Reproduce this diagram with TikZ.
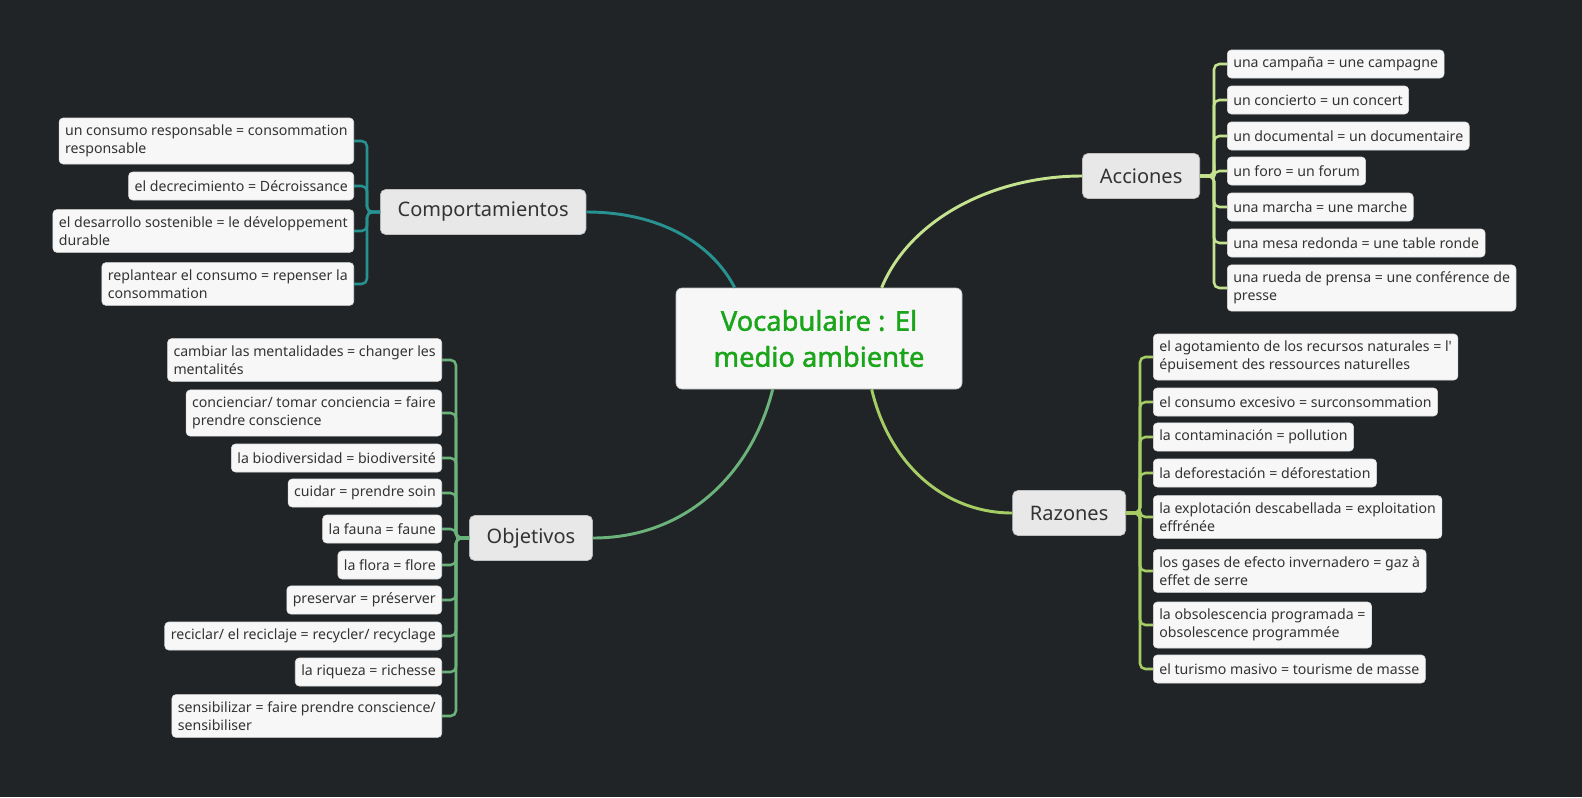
\documentclass[tikz,border=0pt]{standalone}
\usepackage{fontspec}
\setmainfont{Noto Sans}
\newfontfamily\titlefont[FakeBold=1.6]{Noto Sans}
\usetikzlibrary{calc}
\definecolor{bg}{HTML}{202427}
\definecolor{leaffill}{HTML}{F7F7F7}
\definecolor{topicfill}{HTML}{E8E8E8}
\definecolor{txt}{HTML}{333333}
\definecolor{titlegreen}{HTML}{1BA51B}
\definecolor{cteal}{HTML}{27928F}
\definecolor{cacc}{HTML}{C5E38F}
\definecolor{cobj}{HTML}{6BB37A}
\definecolor{craz}{HTML}{A6CD63}
\begin{document}
\begin{tikzpicture}[x=0.75pt,y=-0.75pt,
 leaf/.style={fill=leaffill, draw=black!12, line width=0.4pt, rounded corners=3pt, align=left, text=txt, font=\fontsize{10.6}{13.5}\selectfont, inner xsep=4.5pt, inner ysep=5.2pt, minimum height=21pt},
 topic/.style={fill=topicfill, draw=black!25, line width=0.5pt, rounded corners=4pt, text=txt, font=\fontsize{15}{18}\selectfont, inner xsep=13pt, minimum height=33.75pt},
 central/.style={fill=leaffill, draw=black!25, line width=0.5pt, rounded corners=4.5pt, text=titlegreen, font=\titlefont\fontsize{20.5}{27}\selectfont, align=center, minimum width=214.5pt, minimum height=75.75pt},
 branch/.style={line width=2.2pt},
 bracket/.style={line width=1.9pt, rounded corners=4pt}]
\fill[bg] (0,0) rectangle (1582,797);
\useasboundingbox (0,0) rectangle (1582,797);

% central
\node[central] (ctr) at (819,338.5) {Vocabulaire : El\\medio ambiente};

% topics
\node[topic, anchor=west] (comp) at (380,212) {Comportamientos};
\node[topic, anchor=east] (acc) at (1200,176) {Acciones};
\node[topic, anchor=west] (obj) at (469,538) {Objetivos};
\node[topic, anchor=east] (raz) at (1126,513) {Razones};

% attachment points on the central box
\coordinate (pc) at ($(ctr.north west)+(59,0)$);
\coordinate (pa) at ($(ctr.north west)+(206,0)$);
\coordinate (po) at ($(ctr.south west)+(97,0)$);
\coordinate (pr) at ($(ctr.south west)+(196,0)$);

% main branches
\draw[branch, cteal] (comp.east) .. controls +(75,0) and +(-22,-43) .. (pc);
\draw[branch, cacc] (pa) .. controls +(28,-68) and +(-90,0) .. (acc.west);
\draw[branch, cobj] (po) .. controls +(-20,81) and +(96,0) .. (obj.east);
\draw[branch, craz] (pr) .. controls +(18,76) and +(-67,0) .. (raz.west);

% Acciones leaves
\node[leaf, anchor=west] (a1) at (1227,64) {una campaña = une campagne};
\node[leaf, anchor=west] (a2) at (1227,100) {un concierto = un concert};
\node[leaf, anchor=west] (a3) at (1227,136) {un documental = un documentaire};
\node[leaf, anchor=west] (a4) at (1227,171) {un foro = un forum};
\node[leaf, anchor=west] (a5) at (1227,207) {una marcha = une marche};
\node[leaf, anchor=west] (a6) at (1227,243) {una mesa redonda = une table ronde};
\node[leaf, anchor=west] (a7) at (1227,288) {una rueda de prensa = une conférence de\\presse};
\foreach \i in {1,...,7}
  \draw[bracket, cacc] (acc.east) -- ($(acc.east)+(14,0)$) |- (a\i.west);

% Comportamientos leaves
\node[leaf, anchor=east] (c1) at (354,141) {un consumo responsable = consommation\\responsable};
\node[leaf, anchor=east] (c2) at (354,186) {el decrecimiento = Décroissance};
\node[leaf, anchor=east] (c3) at (354,231) {el desarrollo sostenible = le développement\\durable};
\node[leaf, anchor=east] (c4) at (354,284) {replantear el consumo = repenser la\\consommation};
\foreach \i in {1,...,4}
  \draw[bracket, cteal] (comp.west) -- ($(comp.west)+(-13,0)$) |- (c\i.east);

% Objetivos leaves
\node[leaf, anchor=east] (o1) at (442,360) {cambiar las mentalidades = changer les\\mentalités};
\node[leaf, anchor=east] (o2) at (442,413) {concienciar/ tomar conciencia = faire\\prendre conscience};
\node[leaf, anchor=east] (o3) at (442,458) {la biodiversidad = biodiversité};
\node[leaf, anchor=east] (o4) at (442,493) {cuidar = prendre soin};
\node[leaf, anchor=east] (o5) at (442,529) {la fauna = faune};
\node[leaf, anchor=east] (o6) at (442,565) {la flora = flore};
\node[leaf, anchor=east] (o7) at (442,600) {preservar = préserver};
\node[leaf, anchor=east] (o8) at (442,636) {reciclar/ el reciclaje = recycler/ recyclage};
\node[leaf, anchor=east] (o9) at (442,672) {la riqueza = richesse};
\node[leaf, anchor=east] (o10) at (442,716) {sensibilizar = faire prendre conscience/\\sensibiliser};
\foreach \i in {1,...,10}
  \draw[bracket, cobj] (obj.west) -- ($(obj.west)+(-13,0)$) |- (o\i.east);

% Razones leaves
\node[leaf, anchor=west] (r1) at (1153,357) {el agotamiento de los recursos naturales = l\textquotesingle\\épuisement des ressources naturelles};
\node[leaf, anchor=west] (r2) at (1153,402) {el consumo excesivo = surconsommation};
\node[leaf, anchor=west] (r3) at (1153,437) {la contaminación = pollution};
\node[leaf, anchor=west] (r4) at (1153,473) {la deforestación = déforestation};
\node[leaf, anchor=west] (r5) at (1153,517) {la explotación descabellada = exploitation\\effrénée};
\node[leaf, anchor=west] (r6) at (1153,571) {los gases de efecto invernadero = gaz à\\effet de serre};
\node[leaf, anchor=west] (r7) at (1153,625) {la obsolescencia programada =\\obsolescence programmée};
\node[leaf, anchor=west] (r8) at (1153,669) {el turismo masivo = tourisme de masse};
\foreach \i in {1,...,8}
  \draw[bracket, craz] (raz.east) -- ($(raz.east)+(14,0)$) |- (r\i.west);
\end{tikzpicture}
\end{document}
